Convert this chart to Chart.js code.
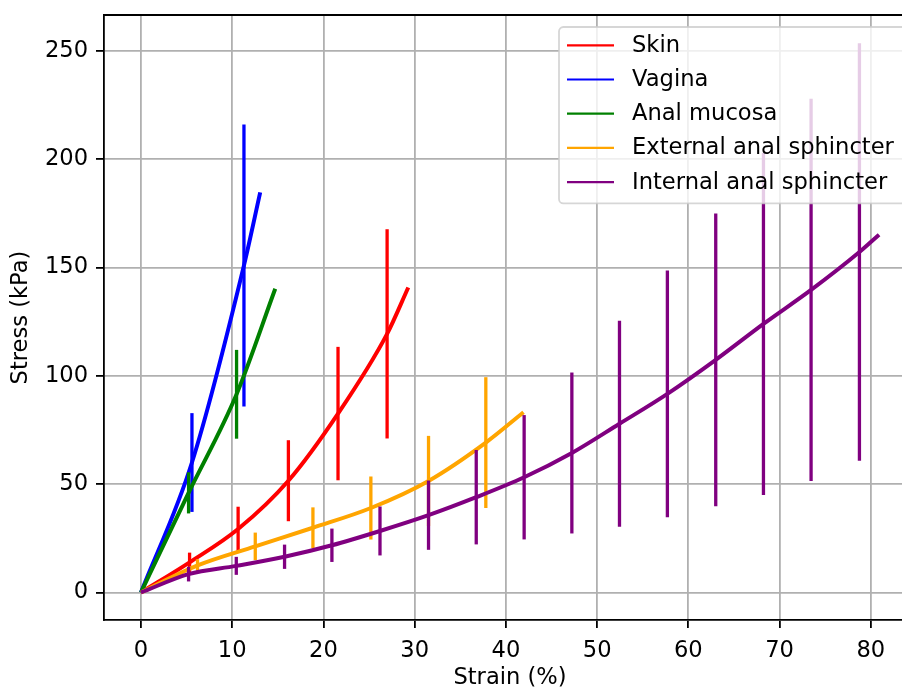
<!DOCTYPE html>
<html>
<head>
<meta charset="utf-8">
<script src="https://cdn.jsdelivr.net/npm/chart.js@4.4.1/dist/chart.umd.min.js"></script>
<style>
  html, body { margin: 0; padding: 0; background: #fff; overflow: hidden; }
  #wrap { width: 916px; height: 688px; }
  canvas { display: block; }
</style>
</head>
<body>
<div id="wrap"><canvas id="c" width="916" height="688"></canvas></div>
<script>
// ---- Data ----
const seriesNames = ['Skin', 'Vagina', 'Anal mucosa', 'External anal sphincter', 'Internal anal sphincter'];
const seriesColors = ['#ff0000', '#0000ff', '#008000', '#ffa500', '#800080'];

const skinStrain = [0, 5.33, 10.65, 16.16, 21.6, 26.98, 29.3];
const skinStress = [0, 13.9, 29.3, 51.6, 82.6, 119.4, 140.8];
const skinErr    = [null, 4.5, 10.3, 18.7, 30.8, 48.3, null];

const vaginaStrain = [0, 5.59, 11.29, 13.07];
const vaginaStress = [0, 60, 151, 184.7];
const vaginaErr    = [null, 22.8, 65.1, null];

const mucosaStrain = [0, 5.22, 10.48, 14.72];
const mucosaStress = [0, 46, 91.5, 140.2];
const mucosaErr    = [null, 9.5, 20.5, null];

const easStrain = [0, 6.2, 12.53, 18.85, 25.2, 31.52, 37.8, 41.93];
const easStress = [0, 12.5, 21.3, 29.9, 39, 51.5, 69.2, 83.2];
const easErr    = [null, 2.85, 6.35, 9.4, 14.55, 20.8, 30.2, null];

const iasStrain = [0, 5.22, 10.45, 15.74, 20.93, 26.2, 31.52, 36.75, 42.0, 47.23, 52.45, 57.7, 63.0, 68.23, 73.45, 78.75, 80.9];
const iasStress = [0, 8.5, 12.3, 16.5, 21.8, 28.4, 35.7, 44, 53.2, 64.4, 77.9, 91.7, 107.4, 124, 139.7, 157.2, 165.2];
const iasErr    = [null, 3.4, 4.15, 5.6, 7.7, 11.3, 16, 21.8, 28.7, 37.15, 47.6, 57, 67.6, 79, 88.2, 96.4, null];

const xTicks = [0, 10, 20, 30, 40, 50, 60, 70, 80];
const yTicks = [0, 50, 100, 150, 200, 250];
const xTitle = 'Strain (%)';
const yTitle = 'Stress (kPa)';

// ---- Build datasets ----
const strains = [skinStrain, vaginaStrain, mucosaStrain, easStrain, iasStrain];
const stresses = [skinStress, vaginaStress, mucosaStress, easStress, iasStress];
const errs = [skinErr, vaginaErr, mucosaErr, easErr, iasErr];

const datasets = seriesNames.map((name, i) => ({
  label: name,
  data: strains[i].map((x, k) => ({ x: x, y: stresses[i][k] })),
  errors: errs[i],
  borderColor: seriesColors[i],
  backgroundColor: seriesColors[i],
  borderWidth: 4,
  pointRadius: 0,
  pointHoverRadius: 0,
  fill: false,
  cubicInterpolationMode: 'monotone',
  borderCapStyle: 'butt',
  order: seriesNames.length - i
}));

const FONT_SIZE = 22.6;
Chart.defaults.font.family = 'DejaVu Sans';
Chart.defaults.font.size = FONT_SIZE;
Chart.defaults.color = '#000';

const errorBarPlugin = {
  id: 'errorBars',
  afterDatasetDraw(chart, args) {
    const ds = chart.data.datasets[args.index];
    if (!ds.errors) return;
    const xs = chart.scales.x, ys = chart.scales.y;
    const ctx = chart.ctx;
    const area = chart.chartArea;
    ctx.save();
    ctx.beginPath();
    ctx.rect(area.left, area.top, area.right - area.left, area.bottom - area.top);
    ctx.clip();
    ctx.strokeStyle = ds.borderColor;
    ctx.lineWidth = 3.3;
    ctx.lineCap = 'butt';
    ds.data.forEach((p, k) => {
      const e = ds.errors[k];
      if (e === null || e === undefined) return;
      const px = xs.getPixelForValue(p.x);
      ctx.beginPath();
      ctx.moveTo(px, ys.getPixelForValue(p.y - e));
      ctx.lineTo(px, ys.getPixelForValue(p.y + e));
      ctx.stroke();
    });
    ctx.restore();
  }
};

const framePlugin = {
  id: 'frame',
  afterDatasetsDraw(chart) {
    const ctx = chart.ctx, a = chart.chartArea;
    ctx.save();
    ctx.strokeStyle = '#000';
    ctx.lineWidth = 1.8;
    ctx.beginPath();
    ctx.moveTo(a.left, a.top);
    ctx.lineTo(a.right, a.top);
    ctx.lineTo(a.right, a.bottom);
    ctx.stroke();
    ctx.restore();
  }
};

const legendPlugin = {
  id: 'boxLegend',
  afterDraw(chart) {
    const ctx = chart.ctx, a = chart.chartArea;
    const right = a.right - 10, top = a.top + 12;
    const left = 559, bottom = top + 176.3;
    const r = 4.4;
    ctx.save();
    ctx.beginPath();
    ctx.moveTo(left + r, top);
    ctx.lineTo(right - r, top);
    ctx.arcTo(right, top, right, top + r, r);
    ctx.lineTo(right, bottom - r);
    ctx.arcTo(right, bottom, right - r, bottom, r);
    ctx.lineTo(left + r, bottom);
    ctx.arcTo(left, bottom, left, bottom - r, r);
    ctx.lineTo(left, top + r);
    ctx.arcTo(left, top, left + r, top, r);
    ctx.closePath();
    ctx.fillStyle = 'rgba(255,255,255,0.8)';
    ctx.fill();
    ctx.strokeStyle = 'rgba(204,204,204,0.8)';
    ctx.lineWidth = 1.8;
    ctx.stroke();
    ctx.font = FONT_SIZE + 'px "DejaVu Sans"';
    ctx.textBaseline = 'middle';
    ctx.textAlign = 'left';
    chart.data.datasets.forEach((ds, i) => {
      const y = top + 18.3 + i * 34.2;
      ctx.strokeStyle = ds.borderColor;
      ctx.lineWidth = 2.2;
      ctx.beginPath();
      ctx.moveTo(567, y);
      ctx.lineTo(614, y);
      ctx.stroke();
      ctx.fillStyle = '#000';
      ctx.fillText(ds.label, 632, y + 0.7);
    });
    ctx.restore();
  }
};

new Chart(document.getElementById('c'), {
  type: 'line',
  data: { datasets: datasets },
  plugins: [errorBarPlugin, framePlugin, legendPlugin],
  options: {
    responsive: false,
    animation: false,
    devicePixelRatio: 1,
    layout: { padding: { top: 15, left: 0, right: 0, bottom: 0 } },
    plugins: { legend: { display: false }, tooltip: { enabled: false } },
    scales: {
      x: {
        type: 'linear',
        min: -4.05,
        max: 84.95,
        afterBuildTicks: (s) => { s.ticks = xTicks.map(v => ({ value: v })); },
        afterFit: (s) => { s.height = 68; s.paddingLeft = 0; s.paddingRight = 0; },
        ticks: { padding: 10, maxRotation: 0, autoSkip: false, callback: (v) => String(v) },
        grid: { color: '#b0b0b0', lineWidth: 1.8, tickColor: '#000', tickWidth: 1.8, tickLength: 8 },
        border: { display: true, color: '#000', width: 1.8 },
        title: { display: true, text: xTitle, font: { size: FONT_SIZE, lineHeight: 1 }, padding: { top: 0, bottom: -1 } }
      },
      y: {
        type: 'linear',
        min: -12.7,
        max: 266.6,
        afterBuildTicks: (s) => { s.ticks = yTicks.map(v => ({ value: v })); },
        afterFit: (s) => { s.width = 104; s.paddingTop = 0; s.paddingBottom = 0; },
        ticks: { padding: 8, autoSkip: false, callback: (v) => String(v) },
        grid: { color: '#b0b0b0', lineWidth: 1.8, tickColor: '#000', tickWidth: 1.8, tickLength: 8 },
        border: { display: true, color: '#000', width: 1.8 },
        title: { display: true, text: yTitle, font: { size: FONT_SIZE, lineHeight: 1 }, padding: { top: 10, bottom: 0 } }
      }
    }
  }
});
</script>
</body>
</html>
